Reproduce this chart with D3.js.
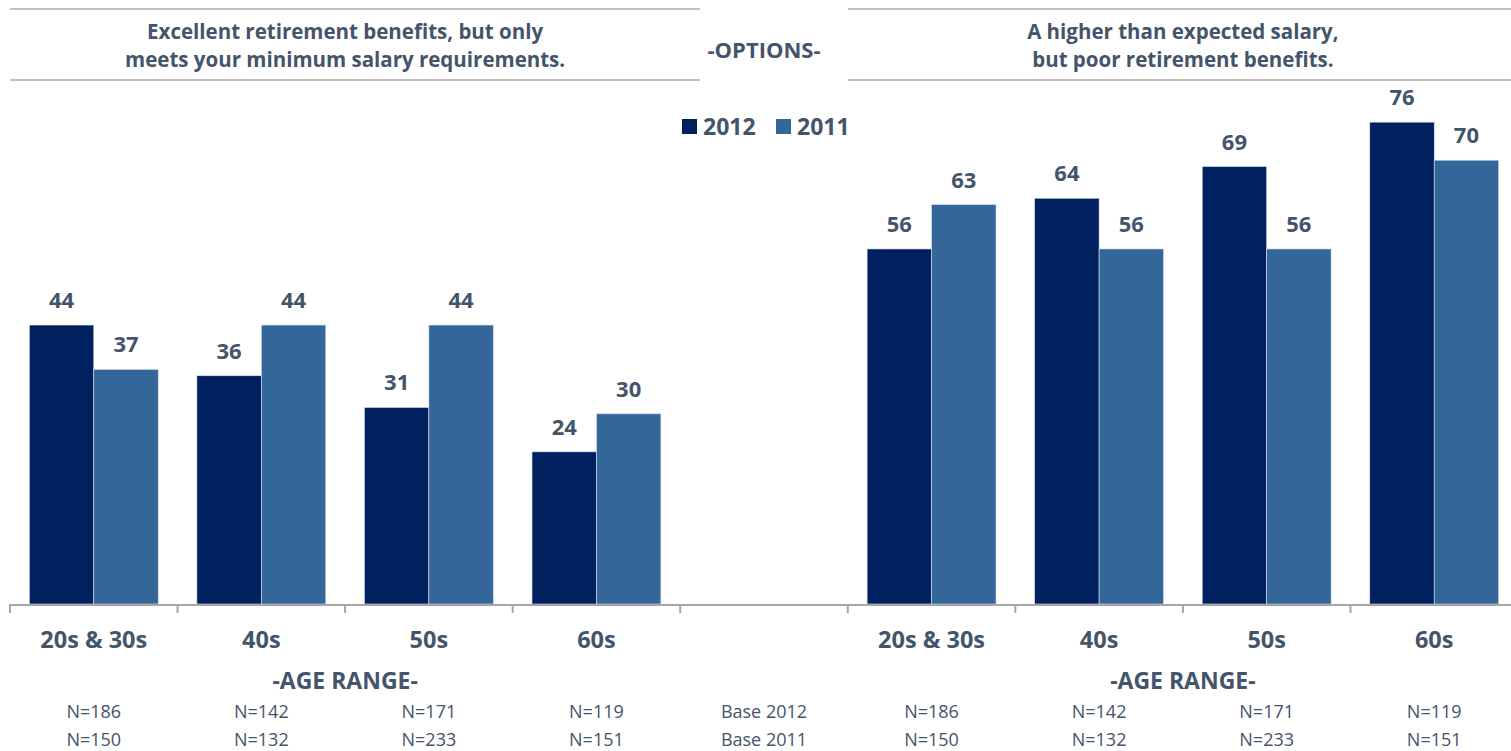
<!DOCTYPE html>
<html>
<head>
<meta charset="utf-8">
<script src="https://cdn.jsdelivr.net/npm/d3@7"></script>
<style>
  html, body { margin: 0; padding: 0; background: #fff; }
  svg { display: block; font-family: "Open Sans", Lato, sans-serif; }
</style>
</head>
<body>
<svg id="chart" width="1511" height="751"></svg>
<script>
// ---- data ----
const categories = ["20s & 30s", "40s", "50s", "60s"];
const series = ["2012", "2011"];
const leftTitle = ["Excellent retirement benefits, but only", "meets your minimum salary requirements."];
const rightTitle = ["A higher than expected salary,", "but poor retirement benefits."];
const middleTitle = "-OPTIONS-";
const axisTitle = "-AGE RANGE-";
const left2012 = [44, 36, 31, 24];
const left2011 = [37, 44, 44, 30];
const right2012 = [56, 64, 69, 76];
const right2011 = [63, 56, 56, 70];
const base2012 = [186, 142, 171, 119];
const base2011 = [150, 132, 233, 151];
const baseLabels = ["Base 2012", "Base 2011"];

// ---- build ----
const colors = { "2012": "#002060", "2011": "#336699" };
const textColor = "#44546a";

const slots = ["L0", "L1", "L2", "L3", "gap", "R0", "R1", "R2", "R3"];
const x0 = d3.scaleBand().domain(slots).range([10, 1518]).padding(0);
const x1 = d3.scaleBand().domain(series).range([0, x0.bandwidth()]).paddingInner(0).paddingOuter(0.3);
const y = d3.scaleLinear().domain([0, 100]).range([604, -30]);

const rows = [];
categories.forEach((c, i) => {
  rows.push({ slot: "L" + i, cat: c, values: { "2012": left2012[i], "2011": left2011[i] }, n: [base2012[i], base2011[i]] });
  rows.push({ slot: "R" + i, cat: c, values: { "2012": right2012[i], "2011": right2011[i] }, n: [base2012[i], base2011[i]] });
});

const svg = d3.select("#chart");

// header lines
const headerSegments = [[10, 700], [848, 1511]];
headerSegments.forEach(([a, b]) => {
  [9, 80].forEach(yy => {
    svg.append("line").attr("x1", a).attr("x2", b).attr("y1", yy).attr("y2", yy)
      .attr("stroke", "#bfbfbf").attr("stroke-width", 2);
  });
});

// titles
const leftCenter = (x0("L0") + x0("L3") + x0.bandwidth()) / 2;
const rightCenter = (x0("R0") + x0("R3") + x0.bandwidth()) / 2;
const midCenter = x0("gap") + x0.bandwidth() / 2;

function titleBlock(lines, cx) {
  lines.forEach((l, i) => svg.append("text").attr("text-anchor", "middle").attr("fill", textColor)
    .attr("font-weight", "bold").attr("font-size", 20.5)
    .attr("x", cx).attr("y", 39 + i * 28).text(l));
}
titleBlock(leftTitle, leftCenter);
titleBlock(rightTitle, rightCenter);
svg.append("text").attr("x", midCenter).attr("y", 58).attr("text-anchor", "middle")
  .attr("fill", textColor).attr("font-weight", "bold").attr("font-size", 22).text(middleTitle);

// legend
const legend = svg.append("g");
let lx = 682;
series.forEach(s => {
  legend.append("rect").attr("x", lx).attr("y", 119).attr("width", 15).attr("height", 15).attr("fill", colors[s]);
  legend.append("text").attr("x", lx + 21).attr("y", 135).attr("fill", textColor)
    .attr("font-weight", "bold").attr("font-size", 23).text(s);
  lx += 94;
});

// bars
const groups = svg.selectAll("g.grp").data(rows).join("g").attr("class", "grp")
  .attr("transform", d => `translate(${x0(d.slot)},0)`);

groups.selectAll("rect").data(d => series.map(s => ({ s, v: d.values[s] }))).join("rect")
  .attr("x", d => x1(d.s)).attr("width", x1.bandwidth())
  .attr("y", d => y(d.v)).attr("height", d => y(0) - y(d.v))
  .attr("fill", d => colors[d.s]).attr("stroke", "#dbe3ee").attr("stroke-width", 0.6);

groups.selectAll("text.val").data(d => series.map(s => ({ s, v: d.values[s] }))).join("text")
  .attr("class", "val")
  .attr("x", d => x1(d.s) + x1.bandwidth() / 2).attr("y", d => y(d.v) - 17)
  .attr("text-anchor", "middle").attr("fill", textColor).attr("font-weight", "bold").attr("font-size", 22)
  .text(d => d.v);

// axis
svg.append("line").attr("x1", 10).attr("x2", 1511).attr("y1", y(0) + 1).attr("y2", y(0) + 1)
  .attr("stroke", "#a6a6a6").attr("stroke-width", 2);
const tickPos = slots.map(s => x0(s));
svg.selectAll("line.tick").data(tickPos).join("line").attr("class", "tick")
  .attr("x1", d => d).attr("x2", d => d).attr("y1", y(0)).attr("y2", y(0) + 9)
  .attr("stroke", "#a6a6a6").attr("stroke-width", 2);

// category labels
svg.selectAll("text.cat").data(rows).join("text").attr("class", "cat")
  .attr("x", d => x0(d.slot) + x0.bandwidth() / 2).attr("y", 648)
  .attr("text-anchor", "middle").attr("fill", textColor).attr("font-weight", "bold").attr("font-size", 23.5)
  .text(d => d.cat);

// axis titles
[x0("L2"), x0("R2")].forEach(cx => {
  svg.append("text").attr("x", cx).attr("y", 689).attr("text-anchor", "middle").attr("fill", textColor)
    .attr("font-weight", "bold").attr("font-size", 23).text(axisTitle);
});

// base rows
[0, 1].forEach(r => {
  svg.selectAll("text.n" + r).data(rows).join("text").attr("class", "n" + r)
    .attr("x", d => x0(d.slot) + x0.bandwidth() / 2).attr("y", 718 + r * 28)
    .attr("text-anchor", "middle").attr("fill", textColor).attr("font-size", 18)
    .text(d => "N=" + d.n[r]);
  svg.append("text").attr("x", midCenter).attr("y", 718 + r * 28).attr("text-anchor", "middle")
    .attr("fill", textColor).attr("font-size", 18).text(baseLabels[r]);
});
</script>
</body>
</html>
